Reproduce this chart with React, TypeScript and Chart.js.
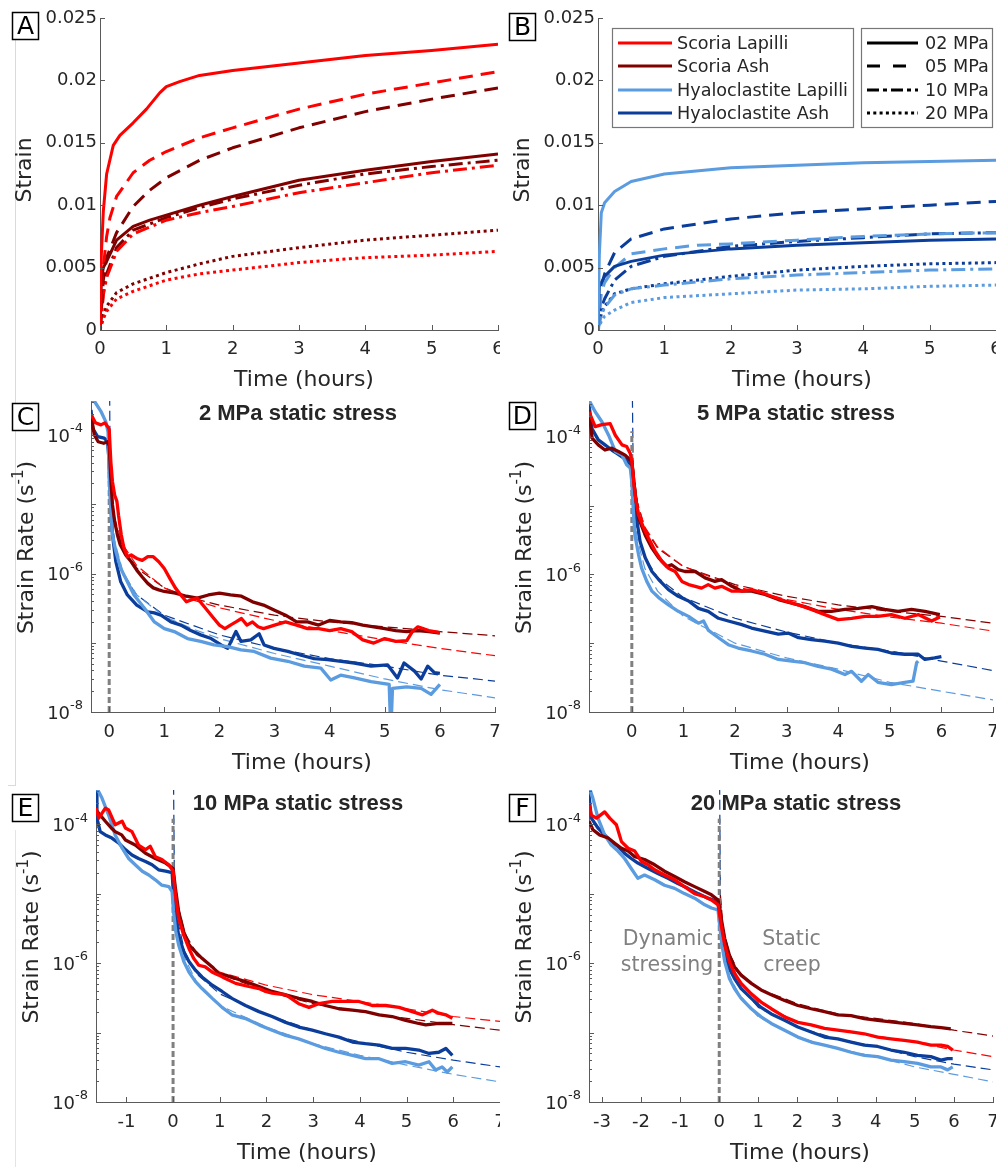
import React, { useEffect, useRef } from 'react';
import { Chart, registerables } from 'chart.js';

Chart.register(...registerables);

const FONT = '"DejaVu Sans", "Noto Sans", sans-serif';
const BOLD_FONT = '"Liberation Sans", Arial, sans-serif';
const AXIS_COLOR = '#5a5a5a';
const TEXT_COLOR = '#262626';
const NOTE_COLOR = '#808080';

const COLOR_SL = '#ff0000';
const COLOR_SA = '#800000';
const COLOR_HL = '#5b9bdf';
const COLOR_HA = '#0b3d9b';

const DASH_05 = [14, 8];
const DASH_10 = [14, 5, 3, 5];
const DASH_20 = [3, 3.5];
const FIT_DASH = [10, 5];
const DATA_W = 3.3;

type Pt = [number, number];

// ---------- tick values / labels ----------
const strainTickValues = [0, 0.005, 0.01, 0.015, 0.02, 0.025];
const strainTickLabels = ['0', '0.005', '0.01', '0.015', '0.02', '0.025'];
const timeTicksAB = [0, 1, 2, 3, 4, 5, 6];
const timeTicksCD = [0, 1, 2, 3, 4, 5, 6, 7];
const timeTicksE = [-1, 0, 1, 2, 3, 4, 5, 6, 7];
const timeTicksF = [-3, -2, -1, 0, 1, 2, 3, 4, 5, 6, 7];
const rateTickExponents = [-8, -6, -4];

const legendMaterials = ['Scoria Lapilli', 'Scoria Ash', 'Hyaloclastite Lapilli', 'Hyaloclastite Ash'];
const legendStresses = ['02 MPa', '05 MPa', '10 MPa', '20 MPa'];
const panelTitles = ['2 MPa static stress', '5 MPa static stress', '10 MPa static stress', '20 MPa static stress'];

// ---------- Panel A: scoria strain (time h, strain) ----------
const strainSL02: Pt[] = [[0, 0], [0.02, 0.006], [0.05, 0.0095], [0.1, 0.0125], [0.2, 0.0148], [0.3, 0.0156], [0.5, 0.0166], [0.7, 0.0177], [0.9, 0.019], [1.0, 0.0195], [1.2, 0.0199], [1.5, 0.0204], [2, 0.0208], [3, 0.0214], [4, 0.022], [5, 0.0224], [6, 0.0229]];
const strainSA02: Pt[] = [[0, 0], [0.02, 0.004], [0.05, 0.005], [0.1, 0.0055], [0.25, 0.0072], [0.5, 0.0083], [0.75, 0.0088], [1, 0.0092], [1.5, 0.01], [2, 0.0107], [3, 0.012], [4, 0.0128], [5, 0.0135], [6, 0.0141]];
const strainSL05: Pt[] = [[0, 0], [0.03, 0.004], [0.1, 0.0075], [0.15, 0.009], [0.25, 0.0107], [0.5, 0.0126], [0.75, 0.0136], [1, 0.0143], [1.5, 0.0154], [2, 0.0162], [3, 0.0177], [4, 0.0189], [5, 0.0198], [6, 0.0207]];
const strainSA05: Pt[] = [[0, 0], [0.05, 0.004], [0.1, 0.0058], [0.25, 0.0078], [0.5, 0.0099], [0.75, 0.0112], [1, 0.0122], [1.5, 0.0136], [2, 0.0146], [3, 0.0162], [4, 0.0175], [5, 0.0185], [6, 0.0194]];
const strainSL10: Pt[] = [[0, 0], [0.05, 0.0028], [0.1, 0.0042], [0.25, 0.0063], [0.5, 0.0077], [1, 0.0088], [1.5, 0.0094], [2, 0.0099], [3, 0.011], [4, 0.0118], [5, 0.0126], [6, 0.0132]];
const strainSA10: Pt[] = [[0, 0], [0.05, 0.003], [0.1, 0.0045], [0.25, 0.0066], [0.5, 0.008], [1, 0.009], [1.5, 0.0098], [2, 0.0105], [3, 0.0116], [4, 0.0125], [5, 0.0131], [6, 0.0136]];
const strainSL20: Pt[] = [[0, 0], [0.05, 0.0009], [0.1, 0.0015], [0.25, 0.0025], [0.5, 0.0031], [1, 0.004], [1.5, 0.0045], [2, 0.0048], [3, 0.0054], [4, 0.0058], [5, 0.006], [6, 0.0063]];
const strainSA20: Pt[] = [[0, 0], [0.05, 0.0012], [0.1, 0.0019], [0.25, 0.003], [0.5, 0.0037], [1, 0.0046], [1.5, 0.0053], [2, 0.0059], [3, 0.0066], [4, 0.0072], [5, 0.0076], [6, 0.008]];

// ---------- Panel B: hyaloclastite strain ----------
const strainHL02: Pt[] = [[0, 0], [0.02, 0.006], [0.05, 0.0094], [0.1, 0.0102], [0.25, 0.0111], [0.5, 0.0119], [1, 0.0125], [2, 0.013], [3, 0.0132], [4, 0.0134], [5, 0.0135], [6, 0.0136]];
const strainHA02: Pt[] = [[0, 0], [0.02, 0.0035], [0.1, 0.0043], [0.25, 0.0051], [0.5, 0.0055], [1, 0.006], [2, 0.0065], [3, 0.0068], [4, 0.007], [5, 0.0072], [6, 0.0073]];
const strainHL05: Pt[] = [[0, 0], [0.05, 0.003], [0.1, 0.0038], [0.25, 0.005], [0.5, 0.0061], [1, 0.0065], [1.5, 0.0068], [2, 0.0069], [3, 0.0072], [4, 0.0075], [5, 0.0077], [6, 0.0078]];
const strainHA05: Pt[] = [[0, 0], [0.05, 0.0035], [0.1, 0.0045], [0.25, 0.0062], [0.5, 0.0073], [1, 0.0081], [2, 0.0089], [3, 0.0094], [4, 0.0097], [5, 0.01], [6, 0.0103]];
const strainHL10: Pt[] = [[0, 0], [0.05, 0.0012], [0.1, 0.0018], [0.25, 0.0028], [0.5, 0.0033], [1, 0.0036], [2, 0.0041], [3, 0.0044], [4, 0.0046], [5, 0.0048], [6, 0.0049]];
const strainHA10: Pt[] = [[0, 0], [0.05, 0.0018], [0.1, 0.0025], [0.25, 0.004], [0.5, 0.0051], [1, 0.0059], [2, 0.0067], [3, 0.0071], [4, 0.0074], [5, 0.0077], [6, 0.0078]];
const strainHL20: Pt[] = [[0, 0], [0.05, 0.0007], [0.1, 0.0011], [0.25, 0.0016], [0.5, 0.0022], [1, 0.0026], [2, 0.0029], [3, 0.0032], [4, 0.0033], [5, 0.0035], [6, 0.0036]];
const strainHA20: Pt[] = [[0, 0], [0.05, 0.0013], [0.1, 0.0019], [0.25, 0.0029], [0.5, 0.0033], [1, 0.0037], [2, 0.0043], [3, 0.0048], [4, 0.0051], [5, 0.0053], [6, 0.0054]];

// ---------- Panel C: 2 MPa strain rate (time h, 1/s) ----------
const rateC_SL: Pt[] = [[-0.33, 2.0e-4], [-0.25, 1.5e-4], [-0.15, 1.4e-4], [-0.08, 1.5e-4], [-0.02, 1.3e-4], [0, 1.2e-4], [0.03, 4.1e-5], [0.06, 2.1e-5], [0.1, 1.35e-5], [0.14, 1.1e-5], [0.17, 6.9e-6], [0.22, 3.6e-6], [0.27, 2.3e-6], [0.33, 1.75e-6], [0.4, 1.85e-6], [0.5, 1.65e-6], [0.6, 1.55e-6], [0.7, 1.75e-6], [0.8, 1.75e-6], [0.9, 1.48e-6], [1.0, 1.18e-6], [1.1, 8.5e-7], [1.2, 6.2e-7], [1.3, 4.9e-7], [1.4, 3.9e-7], [1.5, 4.2e-7], [1.6, 4.4e-7], [1.7, 3.5e-7], [1.8, 2.8e-7], [1.9, 2.24e-7], [2.0, 1.8e-7], [2.1, 1.6e-7], [2.2, 1.8e-7], [2.3, 2.0e-7], [2.4, 2.24e-7], [2.5, 1.8e-7], [2.6, 2.0e-7], [2.7, 1.7e-7], [2.8, 1.6e-7], [3.0, 1.8e-7], [3.2, 2.0e-7], [3.4, 1.8e-7], [3.6, 1.6e-7], [3.8, 1.6e-7], [4.0, 1.5e-7], [4.2, 1.6e-7], [4.4, 1.45e-7], [4.6, 1.1e-7], [4.8, 9.9e-8], [5.0, 1.15e-7], [5.2, 1.05e-7], [5.4, 1.07e-7], [5.5, 1.45e-7], [5.6, 1.7e-7], [5.8, 1.5e-7], [6.0, 1.4e-7]];
const rateC_SA: Pt[] = [[-0.33, 2.0e-4], [-0.27, 1.0e-4], [-0.2, 8.0e-5], [-0.1, 7.6e-5], [-0.03, 8.0e-5], [0, 7.0e-5], [0.03, 2.3e-5], [0.06, 9.8e-6], [0.1, 5.6e-6], [0.15, 3.6e-6], [0.2, 2.6e-6], [0.3, 1.86e-6], [0.4, 1.48e-6], [0.5, 1.12e-6], [0.6, 8.9e-7], [0.7, 7.2e-7], [0.8, 6.2e-7], [0.9, 5.8e-7], [1.0, 5.5e-7], [1.2, 5.2e-7], [1.4, 4.7e-7], [1.6, 4.4e-7], [1.8, 4.9e-7], [2.0, 5.2e-7], [2.2, 4.9e-7], [2.4, 4.7e-7], [2.6, 3.9e-7], [2.8, 3.5e-7], [3.0, 2.95e-7], [3.2, 2.5e-7], [3.4, 2.0e-7], [3.6, 2.0e-7], [3.8, 1.8e-7], [4.0, 2.1e-7], [4.2, 2.0e-7], [4.4, 1.95e-7], [4.6, 1.8e-7], [4.8, 1.7e-7], [5.0, 1.6e-7], [5.2, 1.5e-7], [5.4, 1.45e-7], [5.6, 1.5e-7], [5.8, 1.45e-7], [6.0, 1.38e-7]];
const rateC_HL: Pt[] = [[-0.33, 3.3e-4], [-0.26, 3.0e-4], [-0.15, 2.2e-4], [-0.06, 1.55e-4], [-0.02, 1.1e-4], [0, 2.3e-5], [0.03, 7.8e-6], [0.06, 3.6e-6], [0.12, 2.1e-6], [0.21, 1.18e-6], [0.33, 7.6e-7], [0.45, 4.9e-7], [0.64, 3.15e-7], [0.82, 2.0e-7], [1.0, 1.6e-7], [1.18, 1.45e-7], [1.42, 1.15e-7], [1.66, 1.05e-7], [1.9, 9.3e-8], [2.15, 8.8e-8], [2.39, 7.9e-8], [2.63, 7.5e-8], [2.93, 6.0e-8], [3.24, 5.4e-8], [3.54, 4.6e-8], [3.84, 4.3e-8], [4.02, 2.9e-8], [4.2, 3.4e-8], [4.45, 3.1e-8], [4.75, 2.75e-8], [5.08, 2.5e-8], [5.11, 5e-9], [5.14, 2.2e-8], [5.4, 2.3e-8], [5.66, 2.2e-8], [5.84, 1.8e-8], [6.0, 2.5e-8]];
const rateC_HA: Pt[] = [[-0.33, 2.3e-4], [-0.3, 1.25e-4], [-0.21, 9.5e-5], [-0.09, 9.0e-5], [-0.03, 8.0e-5], [0, 4.1e-5], [0.03, 9.8e-6], [0.06, 3.6e-6], [0.12, 1.5e-6], [0.21, 7.6e-7], [0.33, 4.9e-7], [0.5, 3.5e-7], [0.7, 2.8e-7], [0.82, 2.7e-7], [0.94, 2.5e-7], [1.12, 2.0e-7], [1.3, 1.8e-7], [1.48, 1.5e-7], [1.66, 1.3e-7], [1.85, 1.15e-7], [2.03, 9.3e-8], [2.15, 8.3e-8], [2.3, 1.45e-7], [2.39, 1.05e-7], [2.57, 1.1e-7], [2.72, 1.35e-7], [2.81, 9.3e-8], [2.99, 8.3e-8], [3.24, 7.5e-8], [3.48, 6.6e-8], [3.72, 5.9e-8], [3.96, 5.7e-8], [4.21, 5.4e-8], [4.45, 5.1e-8], [4.75, 4.6e-8], [5.05, 4.8e-8], [5.23, 3.1e-8], [5.35, 5.1e-8], [5.54, 3.9e-8], [5.66, 3.0e-8], [5.78, 4.6e-8], [5.9, 3.7e-8], [6.0, 3.6e-8]];
const fitC_SL: Pt[] = [[0.02, 3.0e-5], [0.05, 1.25e-5], [0.1, 6.2e-6], [0.25, 2.6e-6], [0.5, 1.3e-6], [1, 6.2e-7], [1.5, 4.2e-7], [2, 3.2e-7], [3, 2.1e-7], [4, 1.5e-7], [5, 1.1e-7], [6, 8.3e-8], [7, 6.5e-8]];
const fitC_SA: Pt[] = [[0.02, 2.6e-5], [0.05, 1.1e-5], [0.1, 5.6e-6], [0.25, 2.3e-6], [0.5, 1.2e-6], [1, 6.2e-7], [1.5, 4.4e-7], [2, 3.5e-7], [3, 2.5e-7], [4, 2.0e-7], [5, 1.7e-7], [6, 1.45e-7], [7, 1.26e-7]];
const fitC_HL: Pt[] = [[0.02, 1.7e-5], [0.05, 6.3e-6], [0.1, 2.9e-6], [0.25, 1.05e-6], [0.5, 4.9e-7], [1, 2.4e-7], [1.5, 1.6e-7], [2, 1.15e-7], [3, 7.0e-8], [4, 4.6e-8], [5, 3.0e-8], [6, 2.1e-8], [7, 1.6e-8]];
const fitC_HA: Pt[] = [[0.005, 1e-3], [0.02, 1.5e-5], [0.05, 5.6e-6], [0.1, 2.6e-6], [0.25, 9.6e-7], [0.5, 4.9e-7], [1, 2.5e-7], [1.5, 1.8e-7], [2, 1.3e-7], [3, 8.3e-8], [4, 5.9e-8], [5, 4.6e-8], [6, 3.4e-8], [7, 2.8e-8]];

// ---------- Panel D: 5 MPa ----------
const rateD_SL: Pt[] = [[-0.83, 2.3e-4], [-0.71, 1.4e-4], [-0.58, 1.5e-4], [-0.42, 1.55e-4], [-0.32, 1.05e-4], [-0.19, 7.6e-5], [-0.1, 7.2e-5], [-0.03, 5.7e-5], [0, 4.4e-5], [0.06, 1.45e-5], [0.13, 7.3e-6], [0.23, 4.7e-6], [0.32, 3.4e-6], [0.45, 2.2e-6], [0.58, 1.55e-6], [0.71, 1.23e-6], [0.84, 1.1e-6], [0.97, 7.9e-7], [1.1, 7.1e-7], [1.23, 6.7e-7], [1.35, 6.3e-7], [1.48, 7.1e-7], [1.61, 6.3e-7], [1.74, 6.7e-7], [1.94, 5.7e-7], [2.13, 5.7e-7], [2.32, 6.0e-7], [2.52, 5.4e-7], [2.71, 4.8e-7], [2.97, 4.1e-7], [3.23, 3.6e-7], [3.48, 3.1e-7], [3.74, 2.6e-7], [4.0, 2.2e-7], [4.26, 2.3e-7], [4.52, 2.45e-7], [4.77, 2.45e-7], [5.03, 2.6e-7], [5.29, 2.3e-7], [5.55, 2.6e-7], [5.81, 2.1e-7], [5.97, 2.4e-7]];
const rateD_SA: Pt[] = [[-0.83, 2.4e-4], [-0.77, 9.5e-5], [-0.65, 7.6e-5], [-0.52, 6.4e-5], [-0.39, 6.8e-5], [-0.26, 6.1e-5], [-0.13, 5.4e-5], [0, 4.4e-5], [0.06, 1.6e-5], [0.13, 6.6e-6], [0.26, 3.7e-6], [0.39, 2.4e-6], [0.52, 1.74e-6], [0.68, 1.3e-6], [0.77, 1.38e-6], [0.9, 1.17e-6], [1.03, 1.1e-6], [1.23, 1.1e-6], [1.42, 8.9e-7], [1.61, 7.9e-7], [1.74, 8.4e-7], [1.94, 6.7e-7], [2.13, 5.7e-7], [2.32, 5.7e-7], [2.58, 5.1e-7], [2.84, 4.3e-7], [3.1, 3.8e-7], [3.35, 3.4e-7], [3.61, 2.9e-7], [3.87, 2.9e-7], [4.13, 3.1e-7], [4.39, 3.2e-7], [4.65, 3.4e-7], [4.9, 3.1e-7], [5.16, 2.9e-7], [5.42, 3.1e-7], [5.68, 2.9e-7], [5.97, 2.6e-7]];
const rateD_HL: Pt[] = [[-0.83, 3.4e-4], [-0.71, 2.3e-4], [-0.58, 1.65e-4], [-0.45, 1.05e-4], [-0.32, 6.1e-5], [-0.19, 5.4e-5], [-0.1, 3.9e-5], [-0.03, 3.5e-5], [0, 2.2e-5], [0.03, 8.2e-6], [0.06, 3.7e-6], [0.13, 1.94e-6], [0.19, 1.23e-6], [0.29, 7.9e-7], [0.39, 5.7e-7], [0.52, 4.6e-7], [0.71, 3.6e-7], [0.9, 2.9e-7], [1.1, 2.45e-7], [1.29, 1.95e-7], [1.39, 2.1e-7], [1.48, 1.55e-7], [1.68, 1.2e-7], [1.87, 9.5e-8], [2.06, 8.5e-8], [2.32, 7.7e-8], [2.58, 6.9e-8], [2.84, 5.8e-8], [3.1, 5.5e-8], [3.35, 5.2e-8], [3.61, 4.6e-8], [3.87, 4.2e-8], [4.13, 3.5e-8], [4.26, 3.9e-8], [4.45, 2.8e-8], [4.58, 3.5e-8], [4.77, 2.7e-8], [5.03, 2.5e-8], [5.29, 2.7e-8], [5.45, 2.8e-8], [5.52, 5.2e-8], [5.55, 5.5e-8]];
const rateD_HA: Pt[] = [[-0.83, 2.9e-4], [-0.77, 1.3e-4], [-0.65, 9.0e-5], [-0.52, 7.6e-5], [-0.39, 6.4e-5], [-0.29, 5.7e-5], [-0.19, 5.1e-5], [-0.1, 4.6e-5], [0, 3.7e-5], [0.03, 1.45e-5], [0.1, 5.9e-6], [0.16, 3.0e-6], [0.26, 1.74e-6], [0.39, 1.1e-6], [0.52, 8.4e-7], [0.71, 6.0e-7], [0.9, 4.8e-7], [1.1, 4.1e-7], [1.29, 3.2e-7], [1.48, 2.9e-7], [1.68, 2.3e-7], [1.87, 2.1e-7], [2.13, 1.86e-7], [2.32, 1.66e-7], [2.58, 1.5e-7], [2.84, 1.35e-7], [3.03, 1.4e-7], [3.23, 1.2e-7], [3.48, 1.13e-7], [3.74, 1.07e-7], [4.0, 1.0e-7], [4.26, 9.0e-8], [4.52, 8.5e-8], [4.77, 8.1e-8], [5.03, 7.2e-8], [5.29, 6.9e-8], [5.55, 6.9e-8], [5.68, 5.8e-8], [5.87, 6.1e-8], [6.0, 6.4e-8]];
const fitD_SL: Pt[] = [[0.03, 3.5e-5], [0.1, 1.15e-5], [0.25, 4.9e-6], [0.5, 2.5e-6], [1, 1.3e-6], [2, 6.7e-7], [3, 4.3e-7], [4, 3.1e-7], [5, 2.4e-7], [6, 1.95e-7], [7, 1.5e-7]];
const fitD_SA: Pt[] = [[0.03, 3.5e-5], [0.1, 1.15e-5], [0.25, 4.7e-6], [0.5, 2.4e-6], [1, 1.3e-6], [2, 7.1e-7], [3, 4.8e-7], [4, 3.6e-7], [5, 2.9e-7], [6, 2.45e-7], [7, 1.95e-7]];
const fitD_HL: Pt[] = [[0.03, 1.15e-5], [0.1, 3.4e-6], [0.25, 1.23e-6], [0.5, 5.7e-7], [1, 2.45e-7], [2, 1.0e-7], [3, 6.1e-8], [4, 4.2e-8], [5, 2.7e-8], [6, 2.0e-8], [7, 1.5e-8]];
const fitD_HA: Pt[] = [[0.005, 1e-3], [0.03, 1.8e-5], [0.1, 4.7e-6], [0.25, 1.74e-6], [0.5, 9.0e-7], [1, 4.6e-7], [2, 2.3e-7], [3, 1.45e-7], [4, 1.0e-7], [5, 7.7e-8], [6, 5.5e-8], [7, 4.0e-8]];

// ---------- Panel E: 10 MPa ----------
const rateE_SL: Pt[] = [[-1.65, 1.7e-4], [-1.59, 1.22e-4], [-1.45, 1.7e-4], [-1.38, 1.6e-4], [-1.24, 9.8e-5], [-1.09, 1.1e-4], [-1.02, 8.8e-5], [-0.88, 7.8e-5], [-0.74, 5.0e-5], [-0.59, 4.3e-5], [-0.49, 4.8e-5], [-0.38, 3.4e-5], [-0.24, 3.1e-5], [-0.09, 2.6e-5], [0, 2.1e-5], [0.05, 9.5e-6], [0.12, 4.4e-6], [0.23, 2.5e-6], [0.34, 1.62e-6], [0.44, 1.17e-6], [0.55, 9.3e-7], [0.69, 8.8e-7], [0.84, 7.4e-7], [0.98, 6.7e-7], [1.12, 6.0e-7], [1.34, 5.1e-7], [1.62, 4.6e-7], [1.84, 4.3e-7], [1.98, 3.9e-7], [2.12, 3.7e-7], [2.41, 3.5e-7], [2.69, 2.6e-7], [2.91, 2.3e-7], [3.12, 2.6e-7], [3.41, 2.8e-7], [3.69, 2.8e-7], [3.98, 2.8e-7], [4.26, 2.45e-7], [4.55, 2.45e-7], [4.84, 2.3e-7], [5.12, 2.0e-7], [5.34, 1.8e-7], [5.55, 2.1e-7], [5.69, 1.9e-7], [5.84, 1.8e-7], [5.98, 1.6e-7]];
const rateE_SA: Pt[] = [[-1.65, 1.6e-4], [-1.45, 1.1e-4], [-1.3, 8.5e-5], [-1.24, 7.8e-5], [-1.1, 7.0e-5], [-1.02, 5.9e-5], [-0.81, 5.0e-5], [-0.59, 3.8e-5], [-0.38, 3.2e-5], [-0.16, 2.75e-5], [0, 2.3e-5], [0.05, 1.2e-5], [0.12, 5.5e-6], [0.23, 2.8e-6], [0.34, 1.82e-6], [0.48, 1.45e-6], [0.62, 1.17e-6], [0.84, 8.8e-7], [0.98, 7.0e-7], [1.12, 6.7e-7], [1.34, 6.0e-7], [1.55, 5.4e-7], [1.84, 4.6e-7], [2.12, 3.9e-7], [2.41, 3.5e-7], [2.69, 3.1e-7], [2.98, 2.8e-7], [3.26, 2.45e-7], [3.55, 2.2e-7], [3.84, 2.1e-7], [4.12, 2.0e-7], [4.41, 1.8e-7], [4.69, 1.7e-7], [4.98, 1.5e-7], [5.26, 1.35e-7], [5.41, 1.29e-7], [5.69, 1.35e-7], [5.98, 1.35e-7]];
const rateE_HL: Pt[] = [[-1.65, 3.5e-4], [-1.52, 2.35e-4], [-1.38, 1.35e-4], [-1.24, 7.0e-5], [-1.09, 4.5e-5], [-0.95, 3.2e-5], [-0.81, 2.6e-5], [-0.66, 2.1e-5], [-0.52, 1.85e-5], [-0.38, 1.58e-5], [-0.24, 1.32e-5], [-0.09, 1.26e-5], [-0.02, 1.07e-5], [0.01, 5.5e-6], [0.06, 2.8e-6], [0.12, 1.82e-6], [0.23, 1.05e-6], [0.34, 7.4e-7], [0.48, 5.4e-7], [0.62, 4.3e-7], [0.84, 3.1e-7], [1.05, 2.3e-7], [1.26, 1.8e-7], [1.55, 1.59e-7], [1.84, 1.29e-7], [2.12, 1.08e-7], [2.41, 9.1e-8], [2.69, 8.1e-8], [2.98, 6.9e-8], [3.26, 5.9e-8], [3.55, 5.2e-8], [3.84, 4.7e-8], [4.12, 4.2e-8], [4.41, 4.2e-8], [4.69, 3.6e-8], [4.98, 3.8e-8], [5.26, 3.4e-8], [5.48, 3.8e-8], [5.62, 2.9e-8], [5.76, 3.2e-8], [5.87, 2.7e-8], [5.98, 3.2e-8]];
const rateE_HA: Pt[] = [[-1.65, 2.95e-4], [-1.63, 1.22e-4], [-1.56, 7.8e-5], [-1.45, 7.0e-5], [-1.31, 6.3e-5], [-1.16, 5.3e-5], [-1.02, 4.3e-5], [-0.88, 3.6e-5], [-0.74, 3.2e-5], [-0.59, 2.9e-5], [-0.45, 2.6e-5], [-0.31, 2.2e-5], [-0.16, 2.1e-5], [-0.02, 2.0e-5], [0.01, 9.5e-6], [0.06, 4.4e-6], [0.12, 2.5e-6], [0.23, 1.45e-6], [0.34, 1.05e-6], [0.48, 7.9e-7], [0.62, 6.3e-7], [0.84, 4.8e-7], [1.05, 3.9e-7], [1.26, 3.1e-7], [1.55, 2.45e-7], [1.84, 2.0e-7], [2.12, 1.7e-7], [2.41, 1.4e-7], [2.69, 1.2e-7], [2.98, 1.08e-7], [3.26, 9.6e-8], [3.55, 8.6e-8], [3.84, 7.3e-8], [4.12, 6.9e-8], [4.41, 6.6e-8], [4.69, 5.9e-8], [4.98, 5.9e-8], [5.26, 5.6e-8], [5.48, 5.0e-8], [5.69, 5.2e-8], [5.84, 5.9e-8], [5.98, 4.7e-8]];
const fitE_SL: Pt[] = [[0.03, 1.66e-5], [0.1, 6.2e-6], [0.25, 2.5e-6], [0.5, 1.3e-6], [1, 7.4e-7], [2, 4.8e-7], [3, 3.5e-7], [4, 2.8e-7], [5, 2.2e-7], [6, 1.7e-7], [7, 1.45e-7]];
const fitE_SA: Pt[] = [[0.03, 1.85e-5], [0.1, 7.0e-6], [0.25, 2.7e-6], [0.5, 1.4e-6], [1, 7.0e-7], [2, 3.9e-7], [3, 2.6e-7], [4, 2.0e-7], [5, 1.6e-7], [6, 1.3e-7], [7, 1.08e-7]];
const fitE_HL: Pt[] = [[0.03, 1.07e-5], [0.1, 3.2e-6], [0.25, 1.17e-6], [0.5, 5.4e-7], [1, 2.45e-7], [2, 1.2e-7], [3, 6.9e-8], [4, 4.7e-8], [5, 3.4e-8], [6, 2.5e-8], [7, 1.95e-8]];
const fitE_HA: Pt[] = [[0.005, 1e-3], [0.03, 1.32e-5], [0.1, 4.0e-6], [0.25, 1.45e-6], [0.5, 7.0e-7], [1, 3.6e-7], [2, 1.8e-7], [3, 1.08e-7], [4, 7.3e-8], [5, 5.2e-8], [6, 4.0e-8], [7, 3.2e-8]];

// ---------- Panel F: 20 MPa ----------
const rateF_SL: Pt[] = [[-3.33, 1.9e-4], [-3.27, 1.35e-4], [-3.14, 1.22e-4], [-2.93, 1.5e-4], [-2.8, 1.22e-4], [-2.63, 9.8e-5], [-2.5, 5.6e-5], [-2.33, 4.5e-5], [-2.16, 4.1e-5], [-1.99, 2.9e-5], [-1.82, 2.6e-5], [-1.65, 2.2e-5], [-1.4, 1.85e-5], [-1.14, 1.58e-5], [-0.89, 1.26e-5], [-0.63, 1.0e-5], [-0.37, 9.0e-6], [-0.2, 8.1e-6], [-0.03, 6.9e-6], [0.05, 3.5e-6], [0.14, 1.82e-6], [0.26, 1.05e-6], [0.39, 7.1e-7], [0.56, 5.1e-7], [0.82, 3.6e-7], [1.07, 2.75e-7], [1.33, 2.2e-7], [1.67, 1.68e-7], [2.01, 1.4e-7], [2.35, 1.29e-7], [2.69, 1.15e-7], [3.03, 1.08e-7], [3.37, 1.02e-7], [3.71, 9.6e-8], [4.05, 8.6e-8], [4.39, 8.1e-8], [4.73, 7.7e-8], [5.07, 7.3e-8], [5.24, 6.9e-8], [5.41, 6.6e-8], [5.67, 6.6e-8], [5.84, 6.3e-8], [5.97, 5.6e-8]];
const rateF_SA: Pt[] = [[-3.33, 1.1e-4], [-3.23, 8.3e-5], [-3.06, 7.0e-5], [-2.84, 6.3e-5], [-2.67, 5.3e-5], [-2.5, 4.5e-5], [-2.33, 4.1e-5], [-2.16, 3.4e-5], [-1.91, 3.1e-5], [-1.65, 2.6e-5], [-1.4, 2.1e-5], [-1.14, 1.76e-5], [-0.89, 1.48e-5], [-0.63, 1.26e-5], [-0.37, 1.07e-5], [-0.2, 9.6e-6], [-0.03, 8.1e-6], [0.05, 4.4e-6], [0.14, 2.25e-6], [0.26, 1.3e-6], [0.39, 8.8e-7], [0.56, 6.7e-7], [0.82, 5.1e-7], [1.07, 4.1e-7], [1.33, 3.5e-7], [1.67, 2.9e-7], [2.01, 2.45e-7], [2.35, 2.2e-7], [2.69, 2.0e-7], [3.03, 1.8e-7], [3.37, 1.75e-7], [3.71, 1.59e-7], [4.05, 1.5e-7], [4.39, 1.42e-7], [4.73, 1.35e-7], [5.07, 1.29e-7], [5.41, 1.22e-7], [5.67, 1.18e-7], [5.92, 1.13e-7]];
const rateF_HL: Pt[] = [[-3.33, 3.5e-4], [-3.23, 2.35e-4], [-3.1, 1.22e-4], [-2.93, 7.0e-5], [-2.76, 5.0e-5], [-2.59, 4.1e-5], [-2.42, 3.2e-5], [-2.25, 2.3e-5], [-2.08, 1.66e-5], [-1.91, 1.85e-5], [-1.65, 1.58e-5], [-1.4, 1.32e-5], [-1.14, 1.19e-5], [-0.89, 1.0e-5], [-0.63, 8.6e-6], [-0.37, 6.9e-6], [-0.2, 6.2e-6], [-0.03, 5.8e-6], [0.01, 3.5e-6], [0.07, 1.82e-6], [0.14, 1.05e-6], [0.26, 6.0e-7], [0.39, 4.3e-7], [0.56, 3.1e-7], [0.82, 2.2e-7], [1.07, 1.68e-7], [1.33, 1.35e-7], [1.67, 1.08e-7], [2.01, 8.6e-8], [2.35, 7.3e-8], [2.69, 6.6e-8], [3.03, 5.9e-8], [3.37, 5.2e-8], [3.71, 4.7e-8], [4.05, 4.5e-8], [4.39, 4.0e-8], [4.73, 3.8e-8], [5.07, 3.6e-8], [5.41, 3.2e-8], [5.67, 3.2e-8], [5.84, 2.9e-8], [5.97, 3.2e-8]];
const rateF_HA: Pt[] = [[-3.33, 2.6e-4], [-3.27, 1.22e-4], [-3.1, 8.8e-5], [-2.93, 7.0e-5], [-2.76, 5.6e-5], [-2.59, 4.8e-5], [-2.42, 3.8e-5], [-2.25, 3.2e-5], [-2.08, 2.75e-5], [-1.82, 2.3e-5], [-1.57, 1.95e-5], [-1.31, 1.66e-5], [-1.06, 1.4e-5], [-0.8, 1.19e-5], [-0.54, 1.0e-5], [-0.29, 8.6e-6], [-0.03, 7.6e-6], [0.01, 4.4e-6], [0.07, 2.25e-6], [0.14, 1.37e-6], [0.26, 8.3e-7], [0.39, 6.0e-7], [0.56, 4.3e-7], [0.82, 3.1e-7], [1.07, 2.3e-7], [1.33, 1.85e-7], [1.67, 1.5e-7], [2.01, 1.2e-7], [2.35, 1.02e-7], [2.69, 8.6e-8], [3.03, 8.1e-8], [3.37, 7.3e-8], [3.71, 6.6e-8], [4.05, 6.3e-8], [4.39, 5.6e-8], [4.73, 5.2e-8], [5.07, 4.7e-8], [5.41, 4.5e-8], [5.67, 4.0e-8], [5.84, 4.2e-8], [5.97, 4.2e-8]];
const fitF_SL: Pt[] = [[0.03, 8.6e-6], [0.1, 2.8e-6], [0.25, 1.17e-6], [0.5, 5.7e-7], [1, 2.75e-7], [2, 1.4e-7], [3, 1.08e-7], [4, 8.9e-8], [5, 7.3e-8], [6, 5.6e-8], [7, 4.5e-8]];
const fitF_SA: Pt[] = [[0.03, 9.5e-6], [0.1, 3.2e-6], [0.25, 1.4e-6], [0.5, 7.4e-7], [1, 4.3e-7], [2, 2.6e-7], [3, 1.87e-7], [4, 1.6e-7], [5, 1.35e-7], [6, 1.08e-7], [7, 8.9e-8]];
const fitF_HL: Pt[] = [[0.03, 5.5e-6], [0.1, 1.82e-6], [0.25, 6.7e-7], [0.5, 3.6e-7], [1, 1.68e-7], [2, 8.6e-8], [3, 5.9e-8], [4, 4.5e-8], [5, 3.2e-8], [6, 2.5e-8], [7, 1.95e-8]];
const fitF_HA: Pt[] = [[0.005, 1e-3], [0.03, 7.6e-6], [0.1, 2.25e-6], [0.25, 8.8e-7], [0.5, 4.8e-7], [1, 2.3e-7], [2, 1.2e-7], [3, 8.1e-8], [4, 6.3e-8], [5, 4.5e-8], [6, 3.5e-8], [7, 2.9e-8]];

// vertical divider at t = 0 (start of static creep)
const dividerLine: Pt[] = [[0, 1e-8], [0, 1.2e-4]];
// annotation anchor values in panel F
const noteRateUpper = 2.2e-6;
const noteRateLower = 9.3e-7;

// ---------- helpers ----------
function line(data: Pt[], color: string, width: number, dash: number[] = []) {
  return {
    data: data.map(([x, y]) => ({ x, y })),
    borderColor: color,
    backgroundColor: color,
    borderWidth: width,
    borderDash: dash,
    pointRadius: 0,
    fill: false,
    tension: 0,
    borderCapStyle: 'butt',
    borderJoinStyle: 'round',
  };
}

function rateSets(sl: Pt[], sa: Pt[], hl: Pt[], ha: Pt[], fsl: Pt[], fsa: Pt[], fhl: Pt[], fha: Pt[]) {
  return [
    line(sl, COLOR_SL, DATA_W),
    line(sa, COLOR_SA, DATA_W),
    line(hl, COLOR_HL, DATA_W),
    line(ha, COLOR_HA, DATA_W),
    line(dividerLine, NOTE_COLOR, 3, [6, 3]),
    line(fsl, COLOR_SL, 1.2, FIT_DASH),
    line(fsa, COLOR_SA, 1.2, FIT_DASH),
    line(fhl, COLOR_HL, 1.2, FIT_DASH),
    line(fha, COLOR_HA, 1.2, FIT_DASH),
  ];
}

interface PanelSpec {
  letter: string;
  left: number; top: number; w: number; h: number;
  padTop: number; padRight: number; yAxisW: number; xAxisH: number;
  xMin: number; xMax: number; xTicks: number[];
  log: boolean; yMax: number;
  tickPad: number;
  yTitleX: number; yTitleDy: number;
  xTitleY: number; xTitleDx: number;
  title?: string; titleX?: number; titleY?: number;
  letterX: number; letterY: number;
  datasets: any[];
  legend?: boolean; annotate?: boolean;
}

const PANELS: PanelSpec[] = [
  {
    letter: 'A', left: 0, top: 0, w: 500, h: 400, padTop: 18, padRight: 2, yAxisW: 100, xAxisH: 70,
    xMin: 0, xMax: 6, xTicks: timeTicksAB, log: false, yMax: 0.025, tickPad: 9,
    yTitleX: 25, yTitleDy: -4, xTitleY: 380, xTitleDx: 5, letterX: 12, letterY: 12,
    datasets: [
      line(strainSL02, COLOR_SL, 3), line(strainSA02, COLOR_SA, 3),
      line(strainSL05, COLOR_SL, 3, DASH_05), line(strainSA05, COLOR_SA, 3, DASH_05),
      line(strainSL10, COLOR_SL, 3, DASH_10), line(strainSA10, COLOR_SA, 3, DASH_10),
      line(strainSL20, COLOR_SL, 3, DASH_20), line(strainSA20, COLOR_SA, 3, DASH_20),
    ],
  },
  {
    letter: 'B', left: 500, top: 0, w: 496, h: 400, padTop: 18, padRight: 0, yAxisW: 98, xAxisH: 70,
    xMin: 0, xMax: 6, xTicks: timeTicksAB, log: false, yMax: 0.025, tickPad: 9,
    yTitleX: 23, yTitleDy: -4, xTitleY: 380, xTitleDx: 5, letterX: 9, letterY: 13, legend: true,
    datasets: [
      line(strainHL02, COLOR_HL, 3), line(strainHA02, COLOR_HA, 3),
      line(strainHL05, COLOR_HL, 3, DASH_05), line(strainHA05, COLOR_HA, 3, DASH_05),
      line(strainHL10, COLOR_HL, 3, DASH_10), line(strainHA10, COLOR_HA, 3, DASH_10),
      line(strainHL20, COLOR_HL, 3, DASH_20), line(strainHA20, COLOR_HA, 3, DASH_20),
    ],
  },
  {
    letter: 'C', left: 0, top: 385, w: 500, h: 400, padTop: 16, padRight: 5, yAxisW: 91, xAxisH: 73,
    xMin: -0.33, xMax: 7, xTicks: timeTicksCD, log: true, yMax: 3.1e-4, tickPad: 10,
    yTitleX: 27, yTitleDy: -9, xTitleY: 378, xTitleDx: 9, title: panelTitles[0], titleX: 298, titleY: 29,
    letterX: 12, letterY: 18,
    datasets: rateSets(rateC_SL, rateC_SA, rateC_HL, rateC_HA, fitC_SL, fitC_SA, fitC_HL, fitC_HA),
  },
  {
    letter: 'D', left: 500, top: 385, w: 496, h: 400, padTop: 16, padRight: 3, yAxisW: 89, xAxisH: 73,
    xMin: -0.83, xMax: 7, xTicks: timeTicksCD, log: true, yMax: 3.3e-4, tickPad: 10,
    yTitleX: 25, yTitleDy: -9, xTitleY: 378, xTitleDx: 9, title: panelTitles[1], titleX: 296, titleY: 29,
    letterX: 9, letterY: 17,
    datasets: rateSets(rateD_SL, rateD_SA, rateD_HL, rateD_HA, fitD_SL, fitD_SA, fitD_HL, fitD_HA),
  },
  {
    letter: 'E', left: 0, top: 785, w: 500, h: 382, padTop: 5, padRight: 0, yAxisW: 96, xAxisH: 65,
    xMin: -1.65, xMax: 7, xTicks: timeTicksE, log: true, yMax: 3.1e-4, tickPad: 10,
    yTitleX: 32, yTitleDy: -9, xTitleY: 368, xTitleDx: 9, title: panelTitles[2], titleX: 298, titleY: 19,
    letterX: 12, letterY: 9,
    datasets: rateSets(rateE_SL, rateE_SA, rateE_HL, rateE_HA, fitE_SL, fitE_SA, fitE_HL, fitE_HA),
  },
  {
    letter: 'F', left: 500, top: 785, w: 496, h: 382, padTop: 5, padRight: 3, yAxisW: 89, xAxisH: 65,
    xMin: -3.33, xMax: 7, xTicks: timeTicksF, log: true, yMax: 3.1e-4, tickPad: 10,
    yTitleX: 25, yTitleDy: -9, xTitleY: 368, xTitleDx: 9, title: panelTitles[3], titleX: 296, titleY: 19,
    letterX: 9, letterY: 9, annotate: true,
    datasets: rateSets(rateF_SL, rateF_SA, rateF_HL, rateF_HA, fitF_SL, fitF_SA, fitF_HL, fitF_HA),
  },
];

function drawLegend(ctx: CanvasRenderingContext2D) {
  const rows = [43, 66, 90, 113];
  const matColors = [COLOR_SL, COLOR_SA, COLOR_HL, COLOR_HA];
  const stressDash = [[], [13, 13], [12, 4, 4, 4], [3, 3.3]];
  ctx.save();
  ctx.fillStyle = '#ffffff';
  ctx.strokeStyle = '#777777';
  ctx.lineWidth = 1.2;
  ctx.fillRect(112, 28, 241, 99);
  ctx.strokeRect(112.5, 28.5, 241, 99);
  ctx.fillRect(361, 28, 131, 99);
  ctx.strokeRect(361.5, 28.5, 131, 99);
  ctx.font = '17.6px ' + FONT;
  ctx.textBaseline = 'middle';
  ctx.textAlign = 'left';
  rows.forEach((y, i) => {
    ctx.lineWidth = 3;
    ctx.lineCap = 'butt';
    ctx.setLineDash([]);
    ctx.strokeStyle = matColors[i];
    ctx.beginPath(); ctx.moveTo(118, y); ctx.lineTo(172, y); ctx.stroke();
    ctx.fillStyle = TEXT_COLOR;
    ctx.fillText(legendMaterials[i], 177, y + 1);
    ctx.strokeStyle = '#000000';
    ctx.setLineDash(stressDash[i]);
    ctx.beginPath(); ctx.moveTo(367, y); ctx.lineTo(418, y); ctx.stroke();
    ctx.setLineDash([]);
    ctx.fillText(legendStresses[i], 425, y + 1);
  });
  ctx.restore();
}

function makeOverlay(p: PanelSpec) {
  return {
    id: 'overlay' + p.letter,
    afterDraw(chart: any) {
      const ctx: CanvasRenderingContext2D = chart.ctx;
      const ca = chart.chartArea;
      const xs = chart.scales.x;
      const ys = chart.scales.y;
      ctx.save();
      // inward tick marks
      ctx.strokeStyle = AXIS_COLOR;
      ctx.lineWidth = 1;
      ctx.setLineDash([]);
      ctx.beginPath();
      p.xTicks.forEach((v) => {
        const px = Math.round(xs.getPixelForValue(v)) + 0.5;
        ctx.moveTo(px, ca.bottom);
        ctx.lineTo(px, ca.bottom - 5);
      });
      if (p.log) {
        for (let e = -8; e <= -4; e++) {
          for (let m = 1; m <= 9; m++) {
            const v = m * Math.pow(10, e);
            if (v > p.yMax * 1.0001) break;
            const py = Math.round(ys.getPixelForValue(v)) + 0.5;
            ctx.moveTo(ca.left, py);
            ctx.lineTo(ca.left + (m === 1 ? 5 : 3), py);
          }
        }
      } else {
        strainTickValues.forEach((v) => {
          const py = Math.round(ys.getPixelForValue(v)) + 0.5;
          ctx.moveTo(ca.left, py);
          ctx.lineTo(ca.left + 5, py);
        });
      }
      ctx.stroke();

      ctx.fillStyle = TEXT_COLOR;
      ctx.textBaseline = 'middle';
      // log tick labels with superscripts
      if (p.log) {
        rateTickExponents.forEach((e) => {
          const py = ys.getPixelForValue(Math.pow(10, e));
          const sup = String(e);
          ctx.font = '13px ' + FONT;
          const w2 = ctx.measureText(sup).width;
          ctx.font = '18px ' + FONT;
          const w1 = ctx.measureText('10').width;
          const xr = ca.left - 8;
          ctx.textAlign = 'left';
          ctx.fillText('10', xr - w2 - w1, py + 2);
          ctx.font = '13px ' + FONT;
          ctx.fillText(sup, xr - w2, py - 6);
        });
      }

      // y title
      const midY = (ca.top + ca.bottom) / 2 + p.yTitleDy;
      ctx.save();
      ctx.translate(p.yTitleX, midY);
      ctx.rotate(-Math.PI / 2);
      ctx.textAlign = 'left';
      if (p.log) {
        const main = '22px ' + FONT;
        const supF = '15px ' + FONT;
        ctx.font = main;
        const w1 = ctx.measureText('Strain Rate (s').width;
        const w3 = ctx.measureText(')').width;
        ctx.font = supF;
        const w2 = ctx.measureText('-1').width;
        let x = -(w1 + w2 + w3) / 2;
        ctx.font = main; ctx.fillText('Strain Rate (s', x, 0); x += w1;
        ctx.font = supF; ctx.fillText('-1', x, -8); x += w2;
        ctx.font = main; ctx.fillText(')', x, 0);
      } else {
        ctx.font = '22px ' + FONT;
        ctx.textAlign = 'center';
        ctx.fillText('Strain', 0, 0);
      }
      ctx.restore();

      // x title
      ctx.font = '22px ' + FONT;
      ctx.textAlign = 'center';
      ctx.fillText('Time (hours)', (ca.left + ca.right) / 2 + p.xTitleDx, p.xTitleY);

      // panel title
      if (p.title) {
        ctx.font = 'bold 22px ' + BOLD_FONT;
        ctx.fillStyle = TEXT_COLOR;
        ctx.textAlign = 'center';
        ctx.fillText(p.title, p.titleX!, p.titleY!);
      }

      // annotations (panel F)
      if (p.annotate) {
        const x0 = xs.getPixelForValue(0);
        const y1 = ys.getPixelForValue(noteRateUpper);
        const y2 = ys.getPixelForValue(noteRateLower);
        ctx.font = '20.5px ' + FONT;
        ctx.fillStyle = NOTE_COLOR;
        ctx.textAlign = 'right';
        ctx.fillText('Dynamic', x0 - 6, y1);
        ctx.fillText('stressing', x0 - 6, y2);
        ctx.textAlign = 'left';
        ctx.fillText('Static', x0 + 43, y1);
        ctx.fillText('creep', x0 + 44, y2);
      }

      // panel letter box
      ctx.fillStyle = '#ffffff';
      ctx.fillRect(p.letterX, p.letterY, 26, 27);
      ctx.strokeStyle = '#000000';
      ctx.lineWidth = 1.5;
      ctx.strokeRect(p.letterX + 0.5, p.letterY + 0.5, 26, 27);
      ctx.fillStyle = '#000000';
      ctx.font = '25px ' + FONT;
      ctx.textAlign = 'center';
      ctx.fillText(p.letter, p.letterX + 13.5, p.letterY + 15);

      if (p.legend) drawLegend(ctx);
      ctx.restore();
    },
  };
}

function zeroPadding(s: any) {
  s.paddingLeft = 0;
  s.paddingRight = 0;
  s.paddingTop = 0;
  s.paddingBottom = 0;
}

function buildConfig(p: PanelSpec): any {
  const tickFont = { family: FONT, size: 18 };
  const yScale: any = p.log
    ? {
        type: 'logarithmic', min: 1e-8, max: p.yMax,
        afterFit: (s: any) => { s.width = p.yAxisW; zeroPadding(s); },
        grid: { display: false, drawTicks: false },
        border: { display: true, color: AXIS_COLOR, width: 1 },
        ticks: { display: false },
      }
    : {
        type: 'linear', min: 0, max: p.yMax,
        afterFit: (s: any) => { s.width = p.yAxisW; zeroPadding(s); },
        afterBuildTicks: (s: any) => { s.ticks = strainTickValues.map((v) => ({ value: v })); },
        grid: { display: false, drawTicks: false },
        border: { display: true, color: AXIS_COLOR, width: 1 },
        ticks: {
          font: tickFont, color: TEXT_COLOR, padding: 3, autoSkip: false,
          callback: (v: number) => {
            const i = strainTickValues.findIndex((t) => Math.abs(t - v) < 1e-9);
            return i >= 0 ? strainTickLabels[i] : '';
          },
        },
      };
  return {
    type: 'line',
    data: { datasets: p.datasets },
    options: {
      animation: false,
      responsive: false,
      maintainAspectRatio: false,
      events: [],
      layout: { padding: { left: 0, top: p.padTop, right: p.padRight, bottom: 0 }, autoPadding: false },
      plugins: { legend: { display: false }, tooltip: { enabled: false }, title: { display: false } },
      scales: {
        x: {
          type: 'linear', min: p.xMin, max: p.xMax,
          afterFit: (s: any) => { s.height = p.xAxisH; zeroPadding(s); },
          afterBuildTicks: (s: any) => { s.ticks = p.xTicks.map((v) => ({ value: v })); },
          grid: { display: false, drawTicks: false },
          border: { display: true, color: AXIS_COLOR, width: 1 },
          ticks: {
            font: tickFont, color: TEXT_COLOR, padding: p.tickPad, autoSkip: false,
            maxRotation: 0, minRotation: 0, callback: (v: number) => String(v),
          },
        },
        y: yScale,
      },
    },
    plugins: [makeOverlay(p)],
  };
}

export default function App() {
  const refs = useRef<(HTMLCanvasElement | null)[]>([]);
  useEffect(() => {
    const charts = PANELS.map((p, i) => new Chart(refs.current[i] as HTMLCanvasElement, buildConfig(p)));
    return () => charts.forEach((c) => c.destroy());
  }, []);
  return (
    <div style={{ position: 'absolute', left: 0, top: 0, width: 996, height: 1167, overflow: 'hidden', background: '#ffffff' }}>
      <div style={{ position: 'absolute', left: 15, top: 40, width: 1, height: 745, background: '#dadada' }} />
      <div style={{ position: 'absolute', left: 8, top: 785, width: 8, height: 1, background: '#dadada' }} />
      <div style={{ position: 'absolute', left: 15, top: 830, width: 1, height: 337, background: '#e4e4e4' }} />
      {PANELS.map((p, i) => (
        <canvas
          key={p.letter}
          ref={(el) => { refs.current[i] = el; }}
          width={p.w}
          height={p.h}
          style={{ position: 'absolute', left: p.left, top: p.top, width: p.w, height: p.h }}
        />
      ))}
    </div>
  );
}
